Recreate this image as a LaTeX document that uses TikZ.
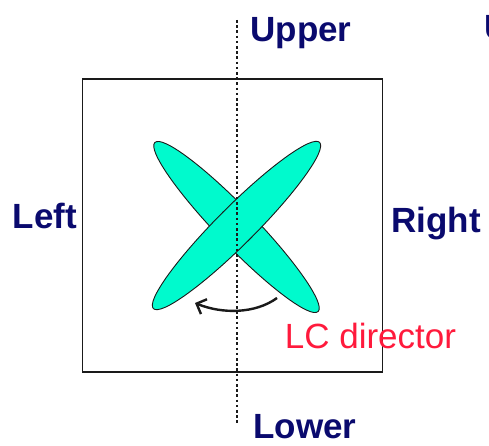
\documentclass[tikz,border=0pt]{standalone}
\usepackage{fontspec}
\setmainfont{Liberation Sans}
\usetikzlibrary{arrows.meta,positioning,shapes.geometric}
\definecolor{navy}{HTML}{0A0A6E}
\definecolor{lcred}{HTML}{FF1A3C}
\definecolor{aqua}{HTML}{00FACD}
\definecolor{ink}{HTML}{1A1A1A}
\tikzset{
  cell/.style={draw=ink, line width=1.2pt},
  molecule/.style={ellipse, draw=ink, line width=.9pt, fill=aqua,
    minimum width=235pt, minimum height=38pt, inner sep=0pt},
  axis/.style={draw=ink, line width=2.6pt, dash pattern=on 2.6pt off 2.6pt},
  side/.style={font=\fontsize{35}{40}\selectfont\bfseries, text=navy, inner sep=0pt},
  note/.style={font=\fontsize{35}{40}\selectfont, text=lcred, inner sep=0pt},
  turn/.style={-{Straight Barb[length=8pt,width=16pt,line width=2.4pt]}, line width=2.4pt, draw=ink}
}
\begin{document}
\begin{tikzpicture}[x=1pt,y=-1pt]
  \useasboundingbox (0,0) rectangle (489,446);
  \fill[white] (0,0) rectangle (489,446);

  % cell and the two director positions
  \node[cell, minimum width=300pt, minimum height=293pt, inner sep=0pt] (cell) at (232.5,225.5) {};
  \node[molecule, rotate=-46] (lcA) at (236.5,227) {};
  \node[molecule, rotate=45] (lcB) at (236.5,225.5) {};

  % rubbing axis
  \coordinate (axtop) at (237,20);
  \coordinate (axbot) at (237,424);
  \draw[axis] (axtop) -- (axbot);

  % rotation of the director
  \coordinate (turnA) at (277,298);
  \coordinate (turnB) at (195,303);
  \draw[turn] (turnA) .. controls (255,314) and (222,314) .. (turnB);

  \node[side, anchor=base] (upper) at (301,42) {Upper};
  \node[side, anchor=base] (lower) at (305,438) {Lower};
  \node[side, anchor=base] (left) at (45,228) {Left};
  \node[side, anchor=base] (right) at (436,232) {Right};
  \node[side, anchor=base west] (cut) at (484.5,40) {U};
  \node[note, anchor=base] (lcdir) at (370.5,348) {LC director};
\end{tikzpicture}
\end{document}
